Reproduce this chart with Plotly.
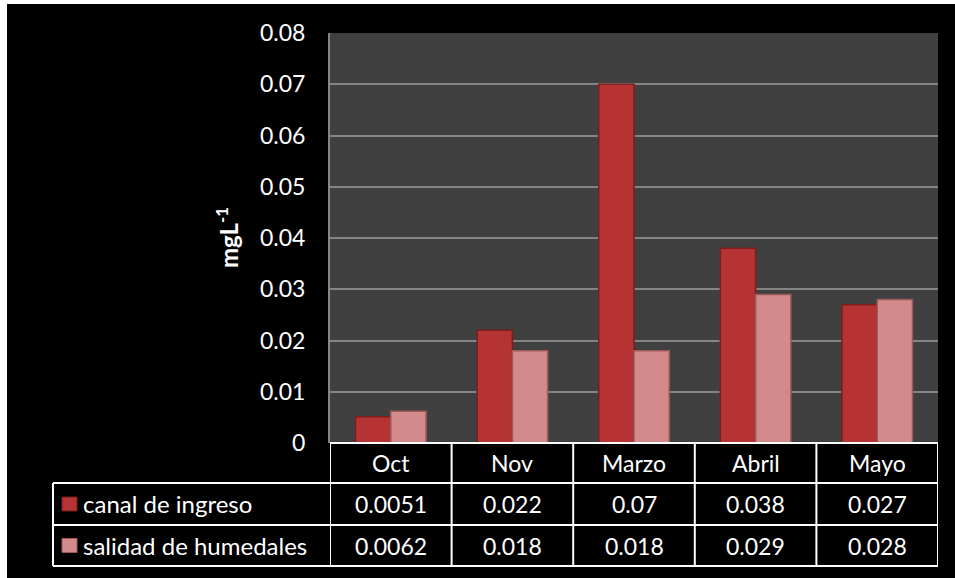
import plotly.graph_objects as go

months = ["Oct", "Nov", "Marzo", "Abril", "Mayo"]
series_names = ["canal de ingreso", "salidad de humedales"]
canal = [0.0051, 0.022, 0.07, 0.038, 0.027]
salida = [0.0062, 0.018, 0.018, 0.029, 0.028]
canal_labels = ["0.0051", "0.022", "0.07", "0.038", "0.027"]
salida_labels = ["0.0062", "0.018", "0.018", "0.029", "0.028"]

W, H = 955, 578
ML, MR, MT, MB = 330, 17, 33, 135
PW, PH = W - ML - MR, H - MT - MB

def px_to_py(py):
    """Pixel row -> paper y."""
    return (H - MB - py) / PH

def px_to_px(px):
    """Pixel column -> paper x."""
    return (px - ML) / PW

red = "#b53333"
red_edge = "#7d1d1d"
pink = "#d28a8a"
pink_edge = "#9c5a5a"

fig = go.Figure()
fig.add_trace(go.Bar(x=months, y=canal, name=series_names[0],
                     marker=dict(color=red, line=dict(color=red_edge, width=1.5))))
fig.add_trace(go.Bar(x=months, y=salida, name=series_names[1],
                     marker=dict(color=pink, line=dict(color=pink_edge, width=1.5))))

font_family = "Lato, Open Sans, sans-serif"
white = "#ffffff"

shapes = []
annotations = []

# outer white strips on top and left edges
shapes.append(dict(type="rect", xref="paper", yref="paper",
                   x0=px_to_px(0), x1=px_to_px(W), y0=px_to_py(0), y1=px_to_py(4),
                   fillcolor="white", line=dict(width=0), layer="below"))
shapes.append(dict(type="rect", xref="paper", yref="paper",
                   x0=px_to_px(0), x1=px_to_px(7), y0=px_to_py(0), y1=px_to_py(H),
                   fillcolor="white", line=dict(width=0), layer="below"))

# data table below the plot
row_lines = [443, 483, 525, 566]
col_x = [-0.5 + i for i in range(len(months) + 1)]
line_style = dict(color=white, width=2)
for i, py in enumerate(row_lines):
    x0 = px_to_px(330) if i == 0 else px_to_px(53)
    shapes.append(dict(type="line", xref="paper", yref="paper",
                       x0=x0, x1=1, y0=px_to_py(py), y1=px_to_py(py),
                       line=line_style))
for cx in col_x:
    shapes.append(dict(type="line", xref="x", yref="paper",
                       x0=cx, x1=cx, y0=px_to_py(443), y1=px_to_py(566),
                       line=line_style))
shapes.append(dict(type="line", xref="paper", yref="paper",
                   x0=px_to_px(53), x1=px_to_px(53), y0=px_to_py(483), y1=px_to_py(566),
                   line=line_style))

cell_font = dict(family=font_family, size=23, color=white)
row_centers = [(row_lines[i] + row_lines[i + 1]) / 2 for i in range(3)]
for i, m in enumerate(months):
    for rc, txt in [(row_centers[0], m),
                    (row_centers[1], canal_labels[i]),
                    (row_centers[2], salida_labels[i])]:
        annotations.append(dict(x=m, y=px_to_py(rc), xref="x", yref="paper",
                                yanchor="middle", xanchor="center",
                                text=txt, showarrow=False, font=cell_font))

# legend keys and series names in the table's left column
for name, col, edge, rc in [(series_names[0], red, red_edge, row_centers[1]),
                            (series_names[1], pink, pink_edge, row_centers[2])]:
    shapes.append(dict(type="rect", xref="paper", yref="paper",
                       x0=px_to_px(62), x1=px_to_px(77),
                       y0=px_to_py(rc + 7), y1=px_to_py(rc - 7),
                       fillcolor=col, line=dict(color=edge, width=1)))
    annotations.append(dict(x=px_to_px(81), y=px_to_py(rc), xref="paper", yref="paper",
                            text=name, showarrow=False, xanchor="left",
                            yanchor="middle", font=dict(family=font_family, size=24, color=white)))

# y-axis title
annotations.append(dict(x=px_to_px(227), y=px_to_py(238), xref="paper", yref="paper",
                        xanchor="center", yanchor="middle",
                        text="<b>mgL<sup>-1</sup></b>", textangle=-90, showarrow=False,
                        font=dict(family=font_family, size=24, color=white)))

fig.update_layout(
    width=W, height=H,
    margin=dict(l=ML, r=MR, t=MT, b=MB),
    paper_bgcolor="black",
    plot_bgcolor="#404040",
    barmode="group",
    bargap=0.42,
    bargroupgap=0,
    showlegend=False,
    shapes=shapes,
    annotations=annotations,
    xaxis=dict(showticklabels=False, showgrid=False, zeroline=False,
               showline=False, ticks="", range=[-0.5, 4.5]),
    yaxis=dict(range=[0, 0.08], dtick=0.01,
               showgrid=True, gridcolor="#858585", gridwidth=2,
               zeroline=False, showline=True, linecolor="#858585", linewidth=2,
               ticks="", ticklabelstandoff=18,
               tickfont=dict(family=font_family, size=23, color=white)),
)

fig.write_html("out.html")
